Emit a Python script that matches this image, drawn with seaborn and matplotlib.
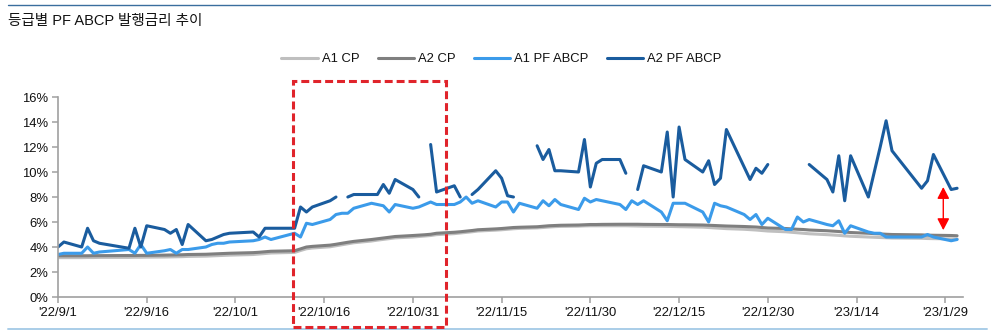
import numpy as np
import pandas as pd
import matplotlib
matplotlib.use("Agg")
import matplotlib.pyplot as plt
from matplotlib import font_manager
from matplotlib.lines import Line2D
from matplotlib.patches import Rectangle
import matplotlib.transforms as mtransforms
import seaborn as sns

# ---- data -------------------------------------------------------------
# Korean business days, 2022-09-01 .. 2023-01-31
kr_holidays = ["2022-09-09", "2022-09-12", "2022-10-03", "2022-10-10",
               "2023-01-23", "2023-01-24"]
dates = pd.bdate_range("2022-09-01", "2023-01-31", freq="C", holidays=kr_holidays)

nan = np.nan
# issuance rates, %
a1_cp = [
    3.15, 3.15, 3.15, 3.16, 3.16, 3.17, 3.17, 3.18, 3.18, 3.19, 3.20, 3.21, 3.22, 3.23, 3.25, 3.27, 3.29, 3.31, 3.33, 3.35,
    3.40, 3.44, 3.48, 3.52, 3.57, 3.72, 3.86, 3.92, 4.02, 4.10, 4.18, 4.26, 4.34, 4.48, 4.55, 4.61, 4.67, 4.73, 4.80,
    4.84, 4.88, 4.92, 4.99, 5.07, 5.12, 5.17, 5.22, 5.28, 5.35, 5.38, 5.42, 5.46, 5.49, 5.53, 5.56, 5.60, 5.63, 5.65, 5.67, 5.69, 5.70,
    5.70, 5.70, 5.70, 5.70, 5.69, 5.68, 5.67, 5.66, 5.65, 5.64, 5.63, 5.62, 5.59, 5.56, 5.53, 5.50, 5.47, 5.42, 5.39, 5.36, 5.32, 5.28,
    5.22, 5.18, 5.14, 5.10, 5.06, 4.99, 4.96, 4.93, 4.89, 4.86, 4.80, 4.78, 4.76, 4.74, 4.72, 4.70, 4.68, 4.67, 4.65, 4.64,
]
a2_cp = [
    3.30, 3.30, 3.30, 3.30, 3.31, 3.31, 3.32, 3.32, 3.33, 3.33, 3.35, 3.36, 3.37, 3.38, 3.40, 3.42, 3.44, 3.46, 3.48, 3.50,
    3.55, 3.58, 3.62, 3.66, 3.70, 3.85, 4.00, 4.05, 4.15, 4.22, 4.30, 4.38, 4.45, 4.60, 4.66, 4.72, 4.78, 4.84, 4.92,
    4.95, 4.98, 5.02, 5.10, 5.18, 5.22, 5.27, 5.32, 5.38, 5.45, 5.48, 5.52, 5.56, 5.58, 5.62, 5.66, 5.70, 5.72, 5.74, 5.76, 5.78, 5.80,
    5.80, 5.81, 5.82, 5.82, 5.82, 5.82, 5.81, 5.80, 5.80, 5.79, 5.78, 5.78, 5.76, 5.74, 5.72, 5.70, 5.68, 5.64, 5.62, 5.60, 5.56, 5.52,
    5.48, 5.45, 5.42, 5.40, 5.36, 5.30, 5.27, 5.24, 5.20, 5.16, 5.10, 5.07, 5.05, 5.02, 5.00, 4.97, 4.95, 4.94, 4.92, 4.90,
]
a1_pf_abcp = [
    3.4, 3.5, 3.5, 4.0, 3.5, 3.6, 3.8, 3.5, 4.2, 3.5, 3.7, 3.8, 3.5, 3.8, 3.8, 4.0, 4.2, 4.3, 4.3, 4.4,
    4.5, 4.6, 4.8, 4.6, 5.1, 4.8, 5.9, 5.8, 6.2, 6.6, 6.7, 6.7, 7.1, 7.5, 7.4, 7.3, 6.8, 7.4, 7.1,
    7.2, 7.4, 7.6, 7.4, 7.4, 7.6, 8.0, 7.5, 7.7, 7.2, 7.6, 7.6, 6.8, 7.5, 7.1, 7.7, 7.3, 7.8, 7.4, 7.0, 7.9, 7.6,
    7.8, 7.7, 7.4, 7.0, 7.7, 7.4, 7.7, 6.8, 6.1, 7.5, 7.5, 7.5, 6.8, 6.0, 7.5, 7.3, 7.2, 6.6, 6.2, 6.6, 5.8, 6.3,
    5.4, 5.4, 6.4, 6.0, 6.2, 5.8, 5.7, 6.1, 5.1, 5.7, 5.2, 5.1, 5.1, 4.8, 4.8, 4.8, 5.0, 4.8, 4.5, 4.6,
]
a2_pf_abcp = [
    4.0, 4.4, 4.0, 5.5, 4.5, 4.3, 3.9, 5.5, 4.0, 5.7, 5.4, 5.1, 5.4, 4.2, 5.8, 4.5, 4.6, 4.8, 5.0, 5.1,
    5.2, 4.8, 5.5, 5.5, 5.5, 7.2, 6.8, 7.2, 7.7, 8.0, nan, 8.0, 8.2, 8.2, 8.2, 9.0, 8.3, 9.4, 8.6,
    8.0, nan, 12.2, 8.4, 8.9, 8.0, nan, 8.2, 8.6, 10.1, 9.5, 8.1, 8.0, nan, 12.1, 11.0, 11.8, 10.1, 10.1, 10.0, 12.6, 8.8,
    10.7, 11.0, 11.0, 9.9, nan, 8.6, 10.5, 10.0, 13.2, 8.0, 13.6, 11.0, 10.0, 10.9, 9.0, 9.5, 13.4, 10.4, 9.4, 10.3, 9.9, 10.6,
    nan, nan, nan, nan, 10.6, 9.4, 8.4, 11.3, 7.7, 11.3, 8.0, 10.0, 12.0, 14.1, 11.7, 8.7, 9.3, 11.4, 8.6, 8.7,
]

series_names = ["A1 CP", "A2 CP", "A1 PF ABCP", "A2 PF ABCP"]
series_colors = ["#BFBFBF", "#7F7F7F", "#3B9BEA", "#1A5C9E"]

tick_dates = ["2022-09-01", "2022-09-16", "2022-10-01", "2022-10-16", "2022-10-31",
              "2022-11-15", "2022-11-30", "2022-12-15", "2022-12-30", "2023-01-14", "2023-01-29"]
tick_labels = ["'22/9/1", "'22/9/16", "'22/10/1", "'22/10/16", "'22/10/31",
               "'22/11/15", "'22/11/30", "'22/12/15", "'22/12/30", "'23/1/14", "'23/1/29"]

title = "등급별 PF ABCP 발행금리 추이"

# highlighted window and spread marker
box_start, box_end = "2022-10-10 16:00", "2022-11-05 16:00"
spread_date = "2023-01-28 16:00"
spread_top, spread_bottom = 8.8, 5.35

# ---- frame ------------------------------------------------------------
df = pd.DataFrame({"date": dates, "A1 CP": a1_cp, "A2 CP": a2_cp,
                   "A1 PF ABCP": a1_pf_abcp, "A2 PF ABCP": a2_pf_abcp})
long = df.melt(id_vars="date", var_name="series", value_name="rate")
# contiguous runs of valid values become separate line units (gaps stay open)
long["seg"] = long.groupby("series")["rate"].transform(lambda s: s.isna().cumsum())
long = long.dropna(subset=["rate"])
long["unit"] = long["series"] + "_" + long["seg"].astype(str)

sns.set_theme(style="white")

# narrow Latin face if present, otherwise regular Liberation Sans a touch smaller
installed = {f.name for f in font_manager.fontManager.ttflist}
if "Liberation Sans Narrow" in installed:
    latin, fs = "Liberation Sans Narrow", 10
else:
    latin, fs = "Liberation Sans", 9.4
plt.rcParams["font.family"] = [latin, "Noto Sans CJK KR", "DejaVu Sans"]

fig = plt.figure(figsize=(10, 3.32), dpi=100)
ax = fig.add_axes([0.058, 0.1054, 0.905, 0.6024])

palette = dict(zip(series_names, series_colors))
sns.lineplot(data=long, x="date", y="rate", hue="series", units="unit",
             estimator=None, palette=palette, hue_order=series_names,
             linewidth=2.2, legend=False, ax=ax, sort=True)

ax.set_ylim(0, 16)
ax.set_xlim(pd.Timestamp("2022-09-01"), pd.Timestamp("2023-02-01"))
ax.set_yticks(range(0, 17, 2))
ax.set_yticklabels([f"{v}%" for v in range(0, 17, 2)])
ax.set_xticks(pd.to_datetime(tick_dates))
ax.set_xticklabels(tick_labels)
ax.set_xlabel("")
ax.set_ylabel("")
ax.grid(False)

for side in ("top", "right"):
    ax.spines[side].set_visible(False)
for side in ("left", "bottom"):
    ax.spines[side].set_color("#A0A0A0")
    ax.spines[side].set_linewidth(1.2)
ax.tick_params(axis="both", which="major", direction="out", length=4, width=1.1,
               color="#A0A0A0", labelsize=fs, labelcolor="#111111", pad=3,
               left=True, bottom=True)

# legend
handles = [Line2D([0], [0], color=c, lw=2.2) for c in series_colors]
leg = ax.legend(handles, series_names, loc="center", bbox_to_anchor=(0.49, 1.19),
                ncol=4, frameon=False, fontsize=fs, handlelength=2.8,
                handletextpad=0.3, columnspacing=1.4, borderaxespad=0)
for t in leg.get_texts():
    t.set_color("#111111")

# dashed highlight box spanning above and below the axes
trans = mtransforms.blended_transform_factory(ax.transData, fig.transFigure)
x0 = matplotlib.dates.date2num(pd.Timestamp(box_start))
x1 = matplotlib.dates.date2num(pd.Timestamp(box_end))
rect = Rectangle((x0, 0.016), x1 - x0, 0.739, transform=trans, fill=False,
                 edgecolor="#E0242B", linewidth=2.2, linestyle=(0, (2.6, 1.3)),
                 clip_on=False, zorder=5)
fig.add_artist(rect)

# spread arrow
xs = pd.Timestamp(spread_date)
ax.annotate("", xy=(xs, spread_bottom), xytext=(xs, spread_top),
            arrowprops=dict(arrowstyle="<|-|>,head_length=0.5,head_width=0.26",
                            mutation_scale=14, color="#FF0000", lw=1.0,
                            shrinkA=0, shrinkB=0))

# title and rules
fig.text(0.008, 1 - 21 / 332, title, fontsize=10.5, color="#111111", va="center", ha="left")
fig.add_artist(Line2D([0.008, 0.99], [1 - 4.7 / 332] * 2, transform=fig.transFigure,
                      color="#3A6E9E", lw=1.0))
fig.add_artist(Line2D([0.008, 0.987], [1 - 329 / 332] * 2, transform=fig.transFigure,
                      color="#A9CDE8", lw=1.4))

fig.savefig("out.png", dpi=100, facecolor="white")
